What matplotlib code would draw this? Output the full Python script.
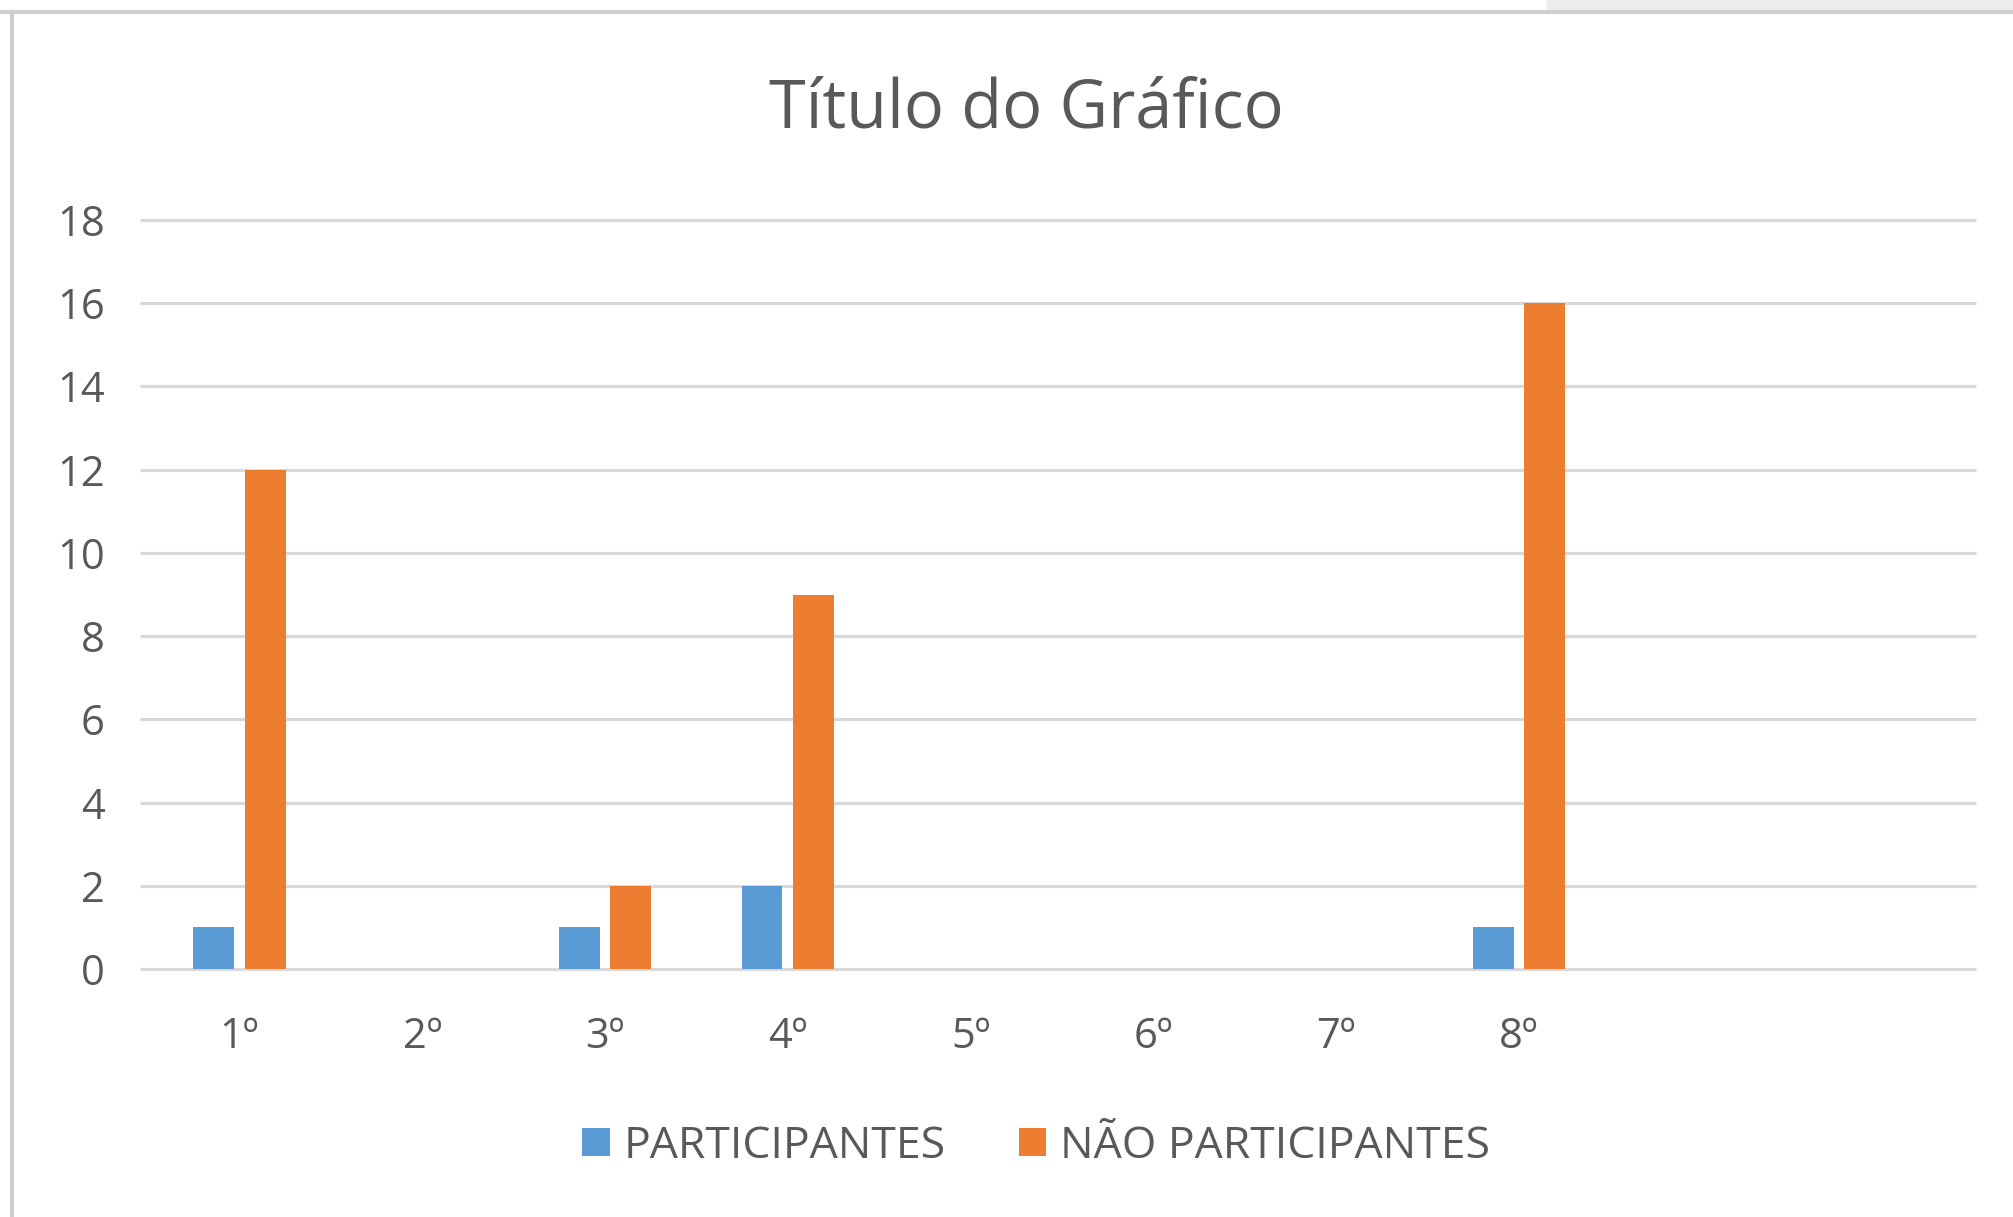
import matplotlib
matplotlib.use("Agg")
import matplotlib.pyplot as plt
from matplotlib.lines import Line2D
from matplotlib.patches import Rectangle
import numpy as np

# Counts per grade; the last two rows of the source sheet are blank.
CATEGORIES = ["1º", "2º", "3º", "4º", "5º", "6º", "7º", "8º", "", ""]
PARTICIPANTES = [1, 0, 1, 2, 0, 0, 0, 1, 0, 0]
NAO_PARTICIPANTES = [12, 0, 2, 9, 0, 0, 0, 16, 0, 0]
SERIES_NAMES = ["PARTICIPANTES", "NÃO PARTICIPANTES"]
Y_TICKS = [0, 2, 4, 6, 8, 10, 12, 14, 16, 18]

BLUE = "#5B9BD5"
ORANGE = "#ED7D31"
GRID = "#D9D9D9"
TEXT = "#595959"

plt.rcParams["font.family"] = ["Open Sans", "DejaVu Sans"]

W, H = 2013, 1217
fig = plt.figure(figsize=(W / 100, H / 100), dpi=100)
fig.patch.set_facecolor("white")
ax = fig.add_axes([148 / W, 1 - 969 / H, (1976 - 148) / W, (969 - 220) / H])

x = np.arange(len(CATEGORIES))
bw = 0.224
off = 0.141
ax.bar(x - off, PARTICIPANTES, bw, color=BLUE, label=SERIES_NAMES[0], zorder=3)
ax.bar(x + off, NAO_PARTICIPANTES, bw, color=ORANGE, label=SERIES_NAMES[1], zorder=3)

ax.set_xlim(-0.5, len(CATEGORIES) - 0.5)
ax.set_ylim(Y_TICKS[0], Y_TICKS[-1])
ax.set_yticks(Y_TICKS)
ax.set_xticks(x)
ax.set_xticklabels(CATEGORIES)
ax.set_yticklabels([str(v) for v in Y_TICKS])
ax.set_axisbelow(True)
for s in ax.spines.values():
    s.set_visible(False)
ax.tick_params(axis="both", length=0, labelsize=30, colors=TEXT)
ax.tick_params(axis="y", pad=31)
ax.tick_params(axis="x", pad=34)

# horizontal gridlines run slightly past the left edge of the category area
x0, x1 = ax.get_xlim()
ax.hlines(Y_TICKS, x0 - 0.045, x1, color=GRID, linewidth=2.3, zorder=0,
          clip_on=False)

fig.text(0.510, 0.910, "Título do Gráfico", ha="center", va="center",
         fontsize=48, color=TEXT)

leg = fig.legend(loc="center", bbox_to_anchor=(0.5147, 0.058), ncol=2, frameon=False,
                 fontsize=32, handlelength=0.62, handleheight=0.62,
                 handletextpad=0.3, columnspacing=1.65)
for t in leg.get_texts():
    t.set_color(TEXT)

# chart frame and the grey strip above it
fig.add_artist(Rectangle((1547 / W, 1 - 10 / H), 1 - 1547 / W, 10 / H,
                         transform=fig.transFigure, color="#EDEDED", zorder=0))
fig.add_artist(Line2D([0, 1], [1 - 12 / H, 1 - 12 / H], transform=fig.transFigure,
                      color="#CFCFCF", linewidth=3))
fig.add_artist(Line2D([12 / W, 12 / W], [0, 1 - 12 / H], transform=fig.transFigure,
                      color="#CFCFCF", linewidth=3))

fig.savefig("out.png", dpi=100)
